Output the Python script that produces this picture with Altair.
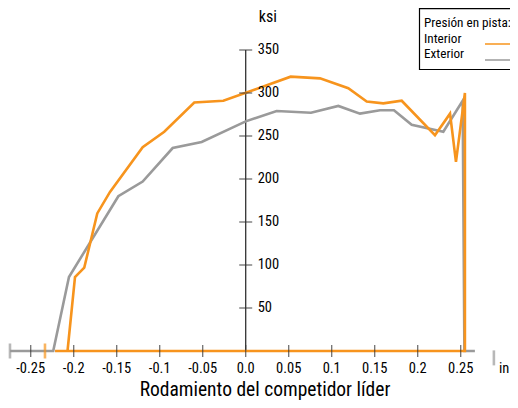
import altair as alt
import pandas as pd

# ---- data ----
interior_x = [-0.2072, -0.1985, -0.1877, -0.1726, -0.1578, -0.1198, -0.0947, -0.0598, -0.026,
              0.0523, 0.0864, 0.1193, 0.1407, 0.16, 0.1814, 0.2201, 0.2376, 0.2445, 0.2549,
              0.2549, -0.2217]
interior_y = [0, 86, 97, 160, 185, 237, 255, 289, 291,
              319, 317, 305.5, 290, 288, 291, 251, 276, 220, 300,
              0, 0]

exterior_x = [-0.2741, -0.2238, -0.2055, -0.1481, -0.1198, -0.0849, -0.0512, 0.0, 0.036,
              0.0759, 0.1077, 0.1329, 0.1562, 0.1724, 0.193, 0.2298, 0.2523, 0.2543, 0.2665]
exterior_y = [0, 0, 86, 180, 197, 236, 243, 267, 279,
              277, 285, 276, 280, 280, 263, 255, 291, 0, 0]

x_ticks = [-0.25, -0.2, -0.15, -0.1, -0.05, 0.0, 0.05, 0.1, 0.15, 0.2, 0.25]
x_labels = ["-0.25", "-0.2", "-0.15", "-0.1", "-0.05", "0.0", "0.05", "0.1", "0.15", "0.2", "0.25"]
y_ticks = [50, 100, 150, 200, 250, 300, 350]
y_labels = ["50", "100", "150", "200", "250", "300", "350"]

end_ticks_x = [-0.2741, -0.2334, 0.2886]
end_ticks_y = [0, 0, -8]
end_ticks_c = ["#9a9a9a", "#f7941d", "#9a9a9a"]

x_title = "Rodamiento del competidor líder"
x_unit = "in"
x_unit_pos = 0.2945
y_unit = "ksi"
legend_title = "Presión en pista:"
series_names = ["Interior", "Exterior"]
series_colors = ["#f7941d", "#9a9a9a"]

FONT = "Liberation Sans Narrow, Roboto Condensed, Noto Sans Condensed, DejaVu Sans Condensed, sans-serif"
AXIS_C = "#333333"

# plot area = page minus the 8px margin (502 x 392)
xs = alt.Scale(domain=[-0.2764, 0.30733], nice=False, zero=False)
ys = alt.Scale(domain=[-56.98, 398.84], nice=False, zero=False)

df_int = pd.DataFrame({"x": interior_x, "y": interior_y, "i": range(len(interior_x))})
df_ext = pd.DataFrame({"x": exterior_x, "y": exterior_y, "i": range(len(exterior_x))})
df_xt = pd.DataFrame({"x": x_ticks, "lab": x_labels, "y": [0] * len(x_ticks)})
df_yt = pd.DataFrame({"y": y_ticks, "lab": y_labels, "x": [0.0] * len(y_ticks)})
df_axis = pd.DataFrame({"x": [0.0], "y": [0], "y2": [350]})
df_end = pd.DataFrame({"x": end_ticks_x, "y": end_ticks_y, "c": end_ticks_c})

X = lambda: alt.X("x:Q", scale=xs, axis=None)
Y = lambda: alt.Y("y:Q", scale=ys, axis=None)

yaxis = alt.Chart(df_axis).mark_rule(color=AXIS_C, strokeWidth=1.3).encode(
    x=X(), y=Y(), y2="y2:Q")

ext_line = alt.Chart(df_ext).mark_line(color=series_colors[1], strokeWidth=2.6,
                                       strokeJoin="miter").encode(
    x=X(), y=Y(), order="i:Q")
int_line = alt.Chart(df_int).mark_line(color=series_colors[0], strokeWidth=2.6,
                                       strokeJoin="miter").encode(
    x=X(), y=Y(), order="i:Q")

xticks = alt.Chart(df_xt).mark_tick(orient="vertical", size=12, thickness=1.3,
                                    color=AXIS_C).encode(x=X(), y=Y())
xlabels = alt.Chart(df_xt).mark_text(font=FONT, fontSize=14.5, dy=18, baseline="middle",
                                     align="center", color="black").encode(
    x=X(), y=Y(), text="lab:N")
yticks = alt.Chart(df_yt).mark_tick(orient="horizontal", size=13, thickness=1.3,
                                    color=AXIS_C).encode(x=X(), y=Y())
ylabels = alt.Chart(df_yt).mark_text(font=FONT, fontSize=14.5, dx=12, baseline="middle",
                                     align="left", color="black").encode(
    x=X(), y=Y(), text="lab:N")

endticks = alt.Chart(df_end).mark_tick(orient="vertical", size=15, thickness=2.6).encode(
    x=X(), y=Y(), color=alt.Color("c:N", scale=None))

unit_x = alt.Chart(pd.DataFrame({"x": [x_unit_pos], "y": [0], "t": [x_unit]})).mark_text(
    font=FONT, fontSize=14.5, dy=18, baseline="middle", align="left", color="black").encode(
    x=X(), y=Y(), text="t:N")
unit_y = alt.Chart(pd.DataFrame({"x": [0.0], "t": [y_unit]})).mark_text(
    font=FONT, fontSize=16, dx=13, baseline="middle", align="left", color="black").encode(
    x=X(), y=alt.value(9), text="t:N")

title = alt.Chart(pd.DataFrame({"t": [x_title]})).mark_text(
    font=FONT, fontSize=19.5, baseline="alphabetic", align="center", color="black").encode(
    x=alt.value(257), y=alt.value(387.5), text="t:N")

# legend (drawn box, right edge runs off the picture like the reference)
leg_box = alt.Chart(pd.DataFrame({"a": [0]})).mark_rect(
    fill="white", stroke="black", strokeWidth=1.2).encode(
    x=alt.value(411.5), x2=alt.value(530), y=alt.value(0.6), y2=alt.value(61.5))
leg_text = alt.Chart(pd.DataFrame({
    "t": [legend_title] + series_names,
    "py": [15, 31, 46]})).mark_text(
    font=FONT, fontSize=13.2, baseline="middle", align="left", color="black").encode(
    x=alt.value(416), y=alt.Y("py:Q", scale=None), text="t:N")
leg_lines = alt.Chart(pd.DataFrame({
    "c": series_colors, "py": [36, 52]})).mark_rule(strokeWidth=1.5).encode(
    x=alt.value(477), x2=alt.value(510), y=alt.Y("py:Q", scale=None),
    color=alt.Color("c:N", scale=None))

chart = alt.layer(
    yaxis, ext_line, int_line, xticks, endticks, xlabels, yticks, ylabels,
    unit_x, unit_y, title, leg_box, leg_text, leg_lines
).properties(
    width=502, height=392,
    autosize=alt.AutoSizeParams(type="none"),
    padding=0,
).configure_view(strokeWidth=0)

chart.save("out.html", embed_options={"renderer": "svg", "actions": False})
